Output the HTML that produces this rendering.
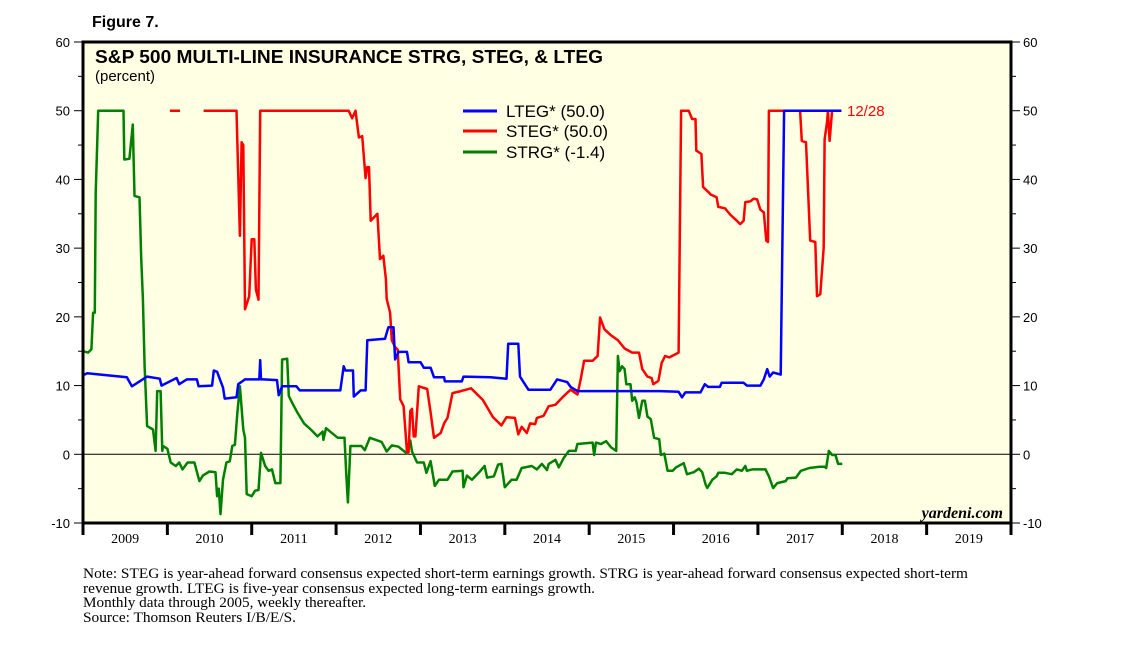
<!DOCTYPE html>
<html><head><meta charset="utf-8"><style>
body{margin:0;background:#fff;}
svg{display:block;font-family:"Liberation Sans",sans-serif;}
.serif{font-family:"Liberation Serif",serif;}
</style></head><body>
<svg id="chart" width="1138" height="652" viewBox="0 0 1138 652" xmlns="http://www.w3.org/2000/svg">
<text x="92" y="27" font-size="16" font-weight="bold">Figure 7.</text>
<rect x="83" y="42" width="928" height="481" fill="#ffffe4"/>
<g id="grid"></g>
<g id="series"></g>
<rect x="83" y="42" width="928" height="481" fill="none" stroke="#000" stroke-width="3"/>
<text x="95" y="63" font-size="18" font-weight="bold" textLength="508" lengthAdjust="spacingAndGlyphs">S&amp;P 500 MULTI-LINE INSURANCE STRG, STEG, &amp; LTEG</text>
<text x="95" y="81" font-size="15">(percent)</text>
<g>
<line x1="463" y1="111" x2="497" y2="111" stroke="#0000ff" stroke-width="3"/>
<text x="506" y="117" font-size="17">LTEG* (50.0)</text>
<line x1="463" y1="131" x2="497" y2="131" stroke="#ff0000" stroke-width="3"/>
<text x="506" y="137" font-size="17">STEG* (50.0)</text>
<line x1="463" y1="152" x2="497" y2="152" stroke="#008000" stroke-width="3"/>
<text x="506" y="158" font-size="17">STRG* (-1.4)</text>
</g>
<text x="847" y="116" font-size="15" fill="#ff0000">12/28</text>
<text class="serif" x="1003" y="518" font-size="16" font-style="italic" font-weight="bold" text-anchor="end">yardeni.com</text>
<g class="serif" font-size="15">
<text x="83" y="578" textLength="885" lengthAdjust="spacingAndGlyphs">Note: STEG is year-ahead forward consensus expected short-term earnings growth. STRG is year-ahead forward consensus expected short-term</text>
<text x="83" y="593" textLength="512" lengthAdjust="spacingAndGlyphs">revenue growth. LTEG is five-year consensus expected long-term earnings growth.</text>
<text x="83" y="607" textLength="283" lengthAdjust="spacingAndGlyphs">Monthly data through 2005, weekly thereafter.</text>
<text x="83" y="622" textLength="213" lengthAdjust="spacingAndGlyphs">Source: Thomson Reuters I/B/E/S.</text>
</g>
</svg>
<script>
const yTicks=[-10,0,10,20,30,40,50,60];
const years=[2009,2010,2011,2012,2013,2014,2015,2016,2017,2018,2019];
const ltegT=[2009.00,2009.05,2009.52,2009.58,2009.76,2009.91,2009.93,2010.11,2010.14,2010.23,2010.35,2010.37,2010.53,2010.55,2010.59,2010.66,2010.68,2010.82,2010.84,2010.92,2011.09,2011.10,2011.11,2011.14,2011.30,2011.32,2011.36,2011.53,2011.57,2012.05,2012.09,2012.11,2012.20,2012.21,2012.29,2012.35,2012.37,2012.58,2012.62,2012.68,2012.70,2012.74,2012.84,2012.86,2013.00,2013.04,2013.12,2013.16,2013.28,2013.29,2013.49,2013.51,2013.83,2014.02,2014.04,2014.16,2014.18,2014.28,2014.54,2014.62,2014.74,2014.78,2014.86,2015.84,2016.06,2016.10,2016.14,2016.32,2016.37,2016.41,2016.55,2016.57,2016.83,2016.87,2017.03,2017.07,2017.11,2017.14,2017.18,2017.27,2017.31,2017.99];
const ltegV=[11.5,11.8,11.2,9.9,11.3,11.0,10.0,11.1,10.2,10.9,10.9,9.9,10.0,12.2,12.0,9.7,8.1,8.3,10.2,10.9,10.9,13.7,10.9,10.9,10.8,8.6,9.9,9.9,9.3,9.3,12.8,12.2,12.2,8.4,9.3,9.3,16.6,16.8,18.5,18.5,13.8,14.9,14.9,13.4,13.4,12.6,12.6,11.2,11.2,10.6,10.6,11.3,11.2,11.0,16.1,16.1,11.3,9.4,9.4,10.9,10.5,9.8,9.2,9.2,9.1,8.3,9.0,9.0,10.2,9.8,9.8,10.4,10.4,10.0,10.0,10.9,12.4,11.3,11.9,11.6,50.0,50.0];
const stegT=[2010.03,2010.15,null,2010.43,2010.82,2010.86,2010.88,2010.90,2010.92,2010.97,2011.00,2011.03,2011.05,2011.08,2011.10,2012.15,2012.19,2012.23,2012.27,2012.31,2012.35,2012.37,2012.39,2012.41,2012.49,2012.52,2012.56,2012.59,2012.60,2012.64,2012.66,2012.70,2012.73,2012.76,2012.80,2012.84,2012.86,2012.88,2012.90,2012.92,2012.94,2012.98,2013.08,2013.12,2013.16,2013.24,2013.28,2013.32,2013.38,2013.48,2013.60,2013.74,2013.86,2013.96,2014.02,2014.12,2014.16,2014.20,2014.26,2014.30,2014.36,2014.38,2014.46,2014.52,2014.60,2014.70,2014.78,2014.86,2014.90,2014.94,2015.04,2015.10,2015.13,2015.18,2015.26,2015.34,2015.42,2015.51,2015.59,2015.63,2015.69,2015.74,2015.76,2015.82,2015.86,2015.90,2015.95,2016.06,2016.09,2016.18,2016.22,2016.26,2016.27,2016.33,2016.35,2016.41,2016.44,2016.51,2016.53,2016.61,2016.67,2016.75,2016.79,2016.83,2016.85,2016.91,2016.95,2016.99,2017.03,2017.07,2017.10,2017.12,2017.13,2017.50,2017.52,2017.57,2017.62,2017.68,2017.70,2017.74,2017.78,2017.79,2017.82,2017.83,2017.85,2017.88,2017.99];
const stegV=[50,50,null,50,50,31.8,45.4,45.0,21.1,23.0,31.3,31.3,24.0,22.5,50,50,48.9,50,46.1,46.3,40.2,41.8,41.8,34.0,35.0,28.4,28.9,25.5,22.6,20.6,16.6,15.6,15.2,8.0,7.0,0.3,0.3,6.3,6.6,2.6,2.6,9.9,9.5,6.1,2.4,3.1,4.5,5.3,8.9,9.2,9.6,7.9,5.4,4.2,5.4,5.3,2.9,4.0,3.1,4.5,4.4,5.3,5.6,7.0,7.2,8.5,9.4,8.7,10.9,13.6,13.6,14.3,19.9,18.2,17.3,16.6,15.4,14.8,14.8,12.4,11.3,11.1,10.2,10.7,13.3,14.3,14.1,14.8,50,50,48.8,48.8,44.2,43.7,38.9,38.2,37.8,37.4,36.0,35.8,34.9,34.0,33.5,34.0,36.7,36.8,37.2,37.1,35.6,35.2,31.1,30.9,50,50,45.6,45.4,31.1,30.9,23.0,23.3,30.1,45.8,48.4,50,45.6,50,50];
const strgT=[2009.00,2009.06,2009.10,2009.12,2009.14,2009.15,2009.18,2009.48,2009.49,2009.55,2009.59,2009.61,2009.67,2009.69,2009.71,2009.73,2009.76,2009.83,2009.86,2009.88,2009.92,2009.94,2009.95,2010.00,2010.04,2010.10,2010.14,2010.18,2010.24,2010.32,2010.38,2010.42,2010.50,2010.57,2010.59,2010.61,2010.63,2010.66,2010.70,2010.74,2010.77,2010.80,2010.83,2010.86,2010.90,2010.92,2010.94,2011.00,2011.04,2011.08,2011.11,2011.16,2011.20,2011.24,2011.28,2011.34,2011.36,2011.42,2011.44,2011.48,2011.54,2011.62,2011.70,2011.78,2011.84,2011.85,2011.88,2011.96,2012.02,2012.10,2012.12,2012.14,2012.17,2012.30,2012.34,2012.40,2012.54,2012.60,2012.66,2012.74,2012.84,2012.88,2012.90,2012.96,2013.04,2013.07,2013.12,2013.17,2013.22,2013.32,2013.38,2013.50,2013.51,2013.55,2013.61,2013.69,2013.76,2013.79,2013.87,2013.92,2013.96,2014.00,2014.08,2014.14,2014.20,2014.32,2014.38,2014.44,2014.50,2014.52,2014.60,2014.64,2014.70,2014.76,2014.84,2014.86,2015.04,2015.06,2015.08,2015.14,2015.20,2015.26,2015.32,2015.34,2015.36,2015.39,2015.42,2015.44,2015.49,2015.51,2015.54,2015.56,2015.59,2015.63,2015.66,2015.69,2015.73,2015.77,2015.83,2015.85,2015.89,2015.93,2015.99,2016.03,2016.12,2016.16,2016.24,2016.30,2016.34,2016.38,2016.40,2016.46,2016.51,2016.53,2016.61,2016.69,2016.75,2016.81,2016.85,2016.87,2016.93,2017.09,2017.13,2017.18,2017.23,2017.33,2017.35,2017.45,2017.51,2017.61,2017.73,2017.79,2017.81,2017.84,2017.88,2017.92,2017.95,2018.00];
const strgV=[15.0,14.8,15.3,20.6,20.6,38.0,50,50,42.9,43.0,48.0,37.6,37.4,28.6,22.6,12.9,4.1,3.6,0.5,9.2,9.2,0.5,1.2,0.8,-1.2,-1.7,-1.2,-2.2,-1.2,-1.2,-3.9,-3.1,-2.5,-2.6,-6.1,-5.0,-8.7,-3.7,-1.2,-1.0,1.2,1.4,6.1,9.9,3.6,2.4,-5.8,-6.1,-5.3,-5.2,0.2,-1.7,-2.4,-2.2,-4.2,-4.2,13.8,13.9,8.5,7.5,6.1,4.5,3.6,2.6,3.3,2.1,3.8,3.0,2.4,2.4,-2.7,-7.0,1.2,1.2,0.6,2.4,1.8,0.4,1.3,1.1,0.1,2.0,0.4,-1.2,-1.2,-2.7,-1.0,-4.6,-3.7,-3.7,-2.5,-2.4,-4.8,-3.1,-3.7,-2.7,-1.7,-3.4,-3.2,-1.5,-1.4,-4.8,-3.7,-3.7,-2.0,-1.7,-2.2,-1.4,-2.3,-1.4,-0.8,-1.9,-0.5,0.5,0.5,1.5,1.7,-0.1,1.7,1.5,1.9,1.0,0.5,14.3,12.1,12.8,12.4,10.2,10.2,7.8,8.3,7.6,5.3,7.8,7.8,5.5,5.1,2.4,2.2,-0.1,0.1,-2.4,-2.4,-1.9,-1.3,-2.9,-2.6,-2.1,-2.6,-4.4,-4.9,-3.7,-3.2,-2.7,-2.7,-2.9,-2.2,-2.4,-1.7,-2.4,-2.2,-2.2,-3.2,-4.9,-4.2,-3.9,-3.5,-3.4,-2.4,-2.0,-1.8,-1.8,-2.0,0.5,-0.1,-0.1,-1.4,-1.4];

const X0=83,X1=1011,Y0=523,Y1=42,T0=2009,T1=2020,V0=-10,V1=60;
function xs(t){return X0+(t-T0)/(T1-T0)*(X1-X0);}
function ys(v){return Y0-(v-V0)/(V1-V0)*(Y0-Y1);}
const NS='http://www.w3.org/2000/svg';
function mk(tag,attrs,parent){const e=document.createElementNS(NS,tag);for(const k in attrs)e.setAttribute(k,attrs[k]);parent.appendChild(e);return e;}
const grid=document.getElementById('grid');
const ser=document.getElementById('series');
const zl=mk('line',{x1:X0,x2:X1,y1:ys(0),y2:ys(0),stroke:'#000','stroke-width':1},grid);


for(let i=0;i<yTicks.length;i++){
  const v=yTicks[i];const y=ys(v);
  const tl=mk('line',{x1:X0-9,x2:X0,y1:y,y2:y,stroke:'#000','stroke-width':1},grid);
  
  
  const tr=mk('line',{x1:X1,x2:X1+9,y1:y,y2:y,stroke:'#000','stroke-width':1},grid);
  
  
  const a=mk('text',{x:X0-13,y:y+5,'font-size':13,'text-anchor':'end'},grid);a.textContent=v;
  
  
  const b=mk('text',{x:X1+12,y:y+5,'font-size':13},grid);b.textContent=v;
  
  
  if(i<yTicks.length-1){const ym=ys(v+5);
    const ml=mk('line',{x1:X0-5,x2:X0,y1:ym,y2:ym,stroke:'#000','stroke-width':1},grid);
    
    
    const mr=mk('line',{x1:X1,x2:X1+5,y1:ym,y2:ym,stroke:'#000','stroke-width':1},grid);
    
    }
}
for(let i=0;i<=years.length;i++){
  const x=xs(T0+i);
  const t=mk('line',{x1:x,x2:x,y1:Y0,y2:Y0+12,stroke:'#000','stroke-width':3},grid);
  
  
  if(i<years.length){const lb=mk('text',{x:xs(years[i]+0.5),y:Y0+20,'font-size':14,'text-anchor':'middle','font-family':'Liberation Serif, serif'},grid);
    lb.textContent=years[i];
    
    }
}
function draw(T,V,color,name){
  let d='',pen=false;
  for(let i=0;i<T.length;i++){
    if(T[i]===null||V[i]===null){pen=false;continue;}
    d+=(pen?'L':'M')+xs(T[i]).toFixed(1)+' '+ys(V[i]).toFixed(1);pen=true;
  }
  const p=mk('path',{d:d,fill:'none',stroke:color,'stroke-width':2.5,'stroke-linejoin':'round'},ser);
  
  
}
draw(strgT,strgV,'#008000','strg-line');
draw(stegT,stegV,'#ff0000','steg-line');
draw(ltegT,ltegV,'#0000ff','lteg-line');
</script>
</body></html>
